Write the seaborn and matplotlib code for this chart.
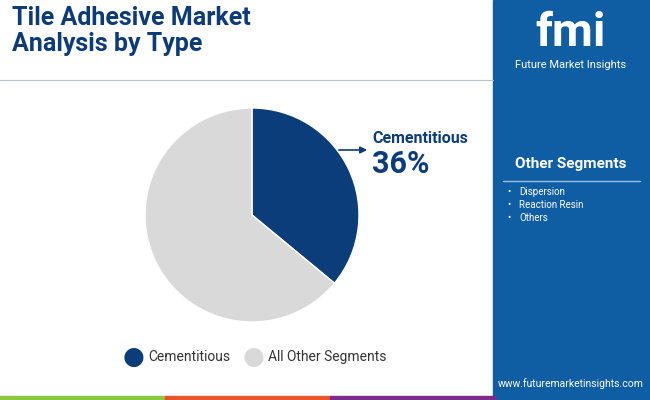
import matplotlib
matplotlib.use("Agg")
import matplotlib.pyplot as plt
import seaborn as sns
from matplotlib.patches import Rectangle, FancyArrowPatch

sns.set_theme(style="white")
plt.rcParams['font.family'] = ['Roboto', 'DejaVu Sans']

categories = ["Cementitious", "All Other Segments"]
values = [36, 64]
colors = ["#0b3d7a", "#d9d9d9"]
other_segments = ["Dispersion", "Reaction Resin", "Others"]

W, H = 650, 400
fig = plt.figure(figsize=(6.5, 4), dpi=100)
fig.patch.set_facecolor("white")

def fx(x): return x / W
def fy(y): return 1 - y / H

fig.patches.append(Rectangle((fx(493), 0), 1 - fx(493), 1, transform=fig.transFigure, color="#0f5da3", zorder=0))
for i, c in enumerate(["#8dc63f", "#e8552a", "#7b2b8a"]):
    fig.patches.append(Rectangle((fx(165 * i), 0), fx(165), 4 / H, transform=fig.transFigure, color=c, zorder=1))

fig.text(fx(12), fy(31), "Tile Adhesive Market\nAnalysis by Type", fontsize=18, fontweight="bold",
         color="#0d3b78", va="center", ha="left", linespacing=1.1)
fig.add_artist(plt.Line2D([0, fx(493)], [fy(80), fy(80)], transform=fig.transFigure, color="#b8c4d2", lw=0.8))

ax = fig.add_axes([fx(252 - 107), fy(215 + 107), fx(214), 214 / H])
ax.pie(values, colors=colors, startangle=90, counterclock=False, radius=1)
ax.set_xlim(-1, 1)
ax.set_ylim(-1, 1)
ax.set_aspect("equal")
ax.axis("off")

fig.add_artist(FancyArrowPatch((fx(336), fy(150)), (fx(370), fy(150)), transform=fig.transFigure,
                               arrowstyle="-|>", mutation_scale=10, color="#0b3d7a", lw=1.2))
fig.text(fx(372), fy(139), "Cementitious", fontsize=11.5, fontweight="bold", color="#0b3d7a", va="center")
fig.text(fx(372), fy(164), "36%", fontsize=22, fontweight="bold", color="#0b3d7a", va="center")

for x, lab, c in [(134, categories[0], colors[0]), (254, categories[1], colors[1])]:
    fig.text(fx(x), fy(357), "●", fontsize=18, color=c, ha="center", va="center")
    fig.text(fx(x + 14), fy(357), lab, fontsize=10, color="#333333", va="center")

fig.text(fx(571), fy(33), "fmi", fontsize=34, fontweight="bold", color="white", ha="center", va="center")
fig.text(fx(571), fy(65), "Future Market Insights", fontsize=8, color="white", ha="center", va="center")
fig.text(fx(571), fy(164), "Other Segments", fontsize=11, fontweight="bold", color="white", ha="center", va="center")
fig.add_artist(plt.Line2D([fx(503), fx(640)], [fy(181), fy(181)], transform=fig.transFigure, color="#9fbde0", lw=1))
for i, s in enumerate(other_segments):
    y = 192 + i * 13
    fig.text(fx(507), fy(y), "•", fontsize=7, color="white", va="center")
    fig.text(fx(519), fy(y), s, fontsize=7, color="white", va="center")
fig.text(fx(571), fy(384), "www.futuremarketinsights.com", fontsize=7.5, color="white", ha="center", va="center")

fig.savefig("out.png", dpi=100)
